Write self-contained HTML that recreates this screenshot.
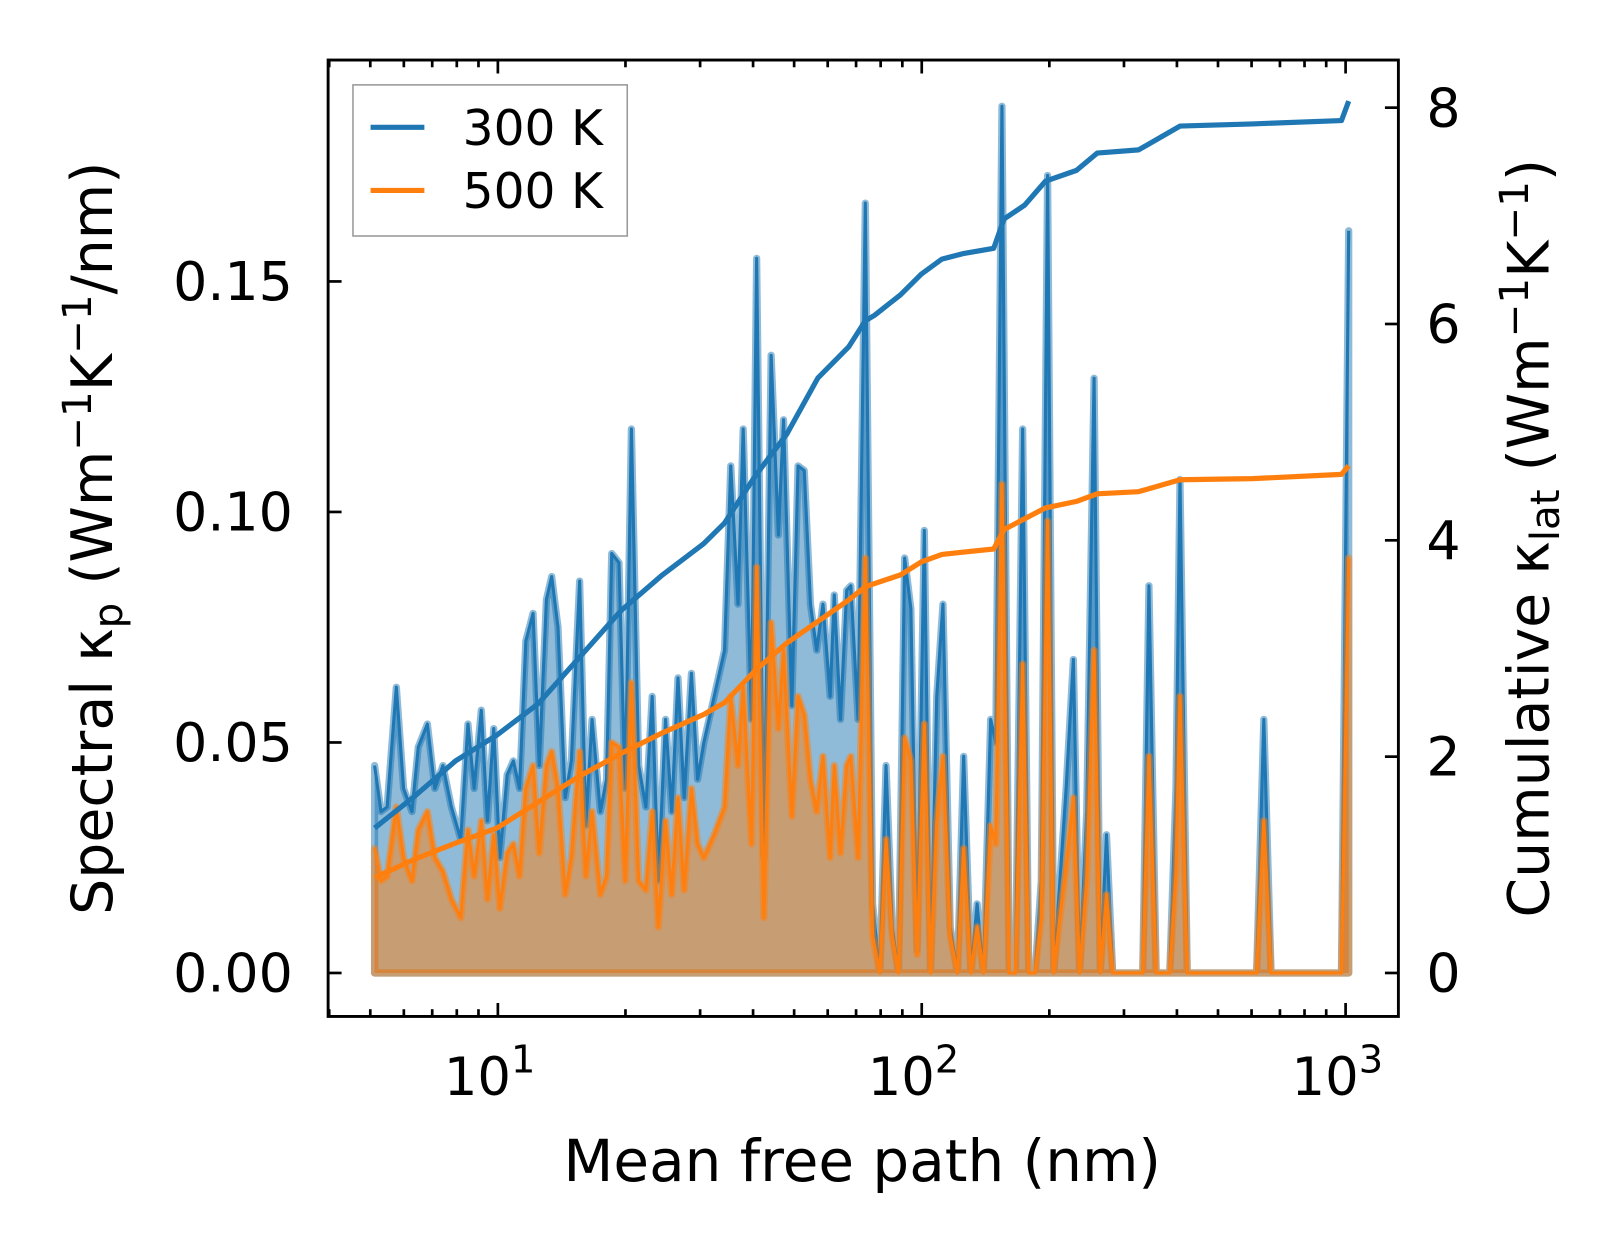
<!DOCTYPE html>
<html><head><meta charset="utf-8"><style>
html,body{margin:0;padding:0;background:#fff;}
svg{display:block;font-family:"DejaVu Sans","Liberation Sans",sans-serif;}
</style></head><body>
<svg id="chart" width="1623" height="1254" viewBox="0 0 1568 1211.5" xmlns="http://www.w3.org/2000/svg">
<g id="plot"></g>
</svg>
<script>
const mfp=[5.12,5.30,5.48,5.76,5.99,6.27,6.49,6.82,7.10,7.42,7.77,8.17,8.50,8.79,9.14,9.45,9.78,10.11,10.52,10.88,11.25,11.64,12.11,12.52,13.02,13.40,13.86,14.41,14.91,15.59,16.13,16.68,17.45,18.05,18.56,19.31,19.97,20.65,21.48,22.35,23.12,23.91,24.87,25.72,26.60,27.52,28.62,29.60,30.62,32.39,34.26,35.43,36.85,37.91,39.66,40.79,42.43,44.13,45.89,47.21,49.38,51.08,52.83,54.65,56.52,58.47,60.80,62.18,64.31,66.53,68.04,70.77,73.61,76.56,79.63,82.37,85.20,88.12,91.15,94.28,97.50,101.4,104.9,108.5,112.2,116.7,121.4,125.6,130.6,135.1,139.8,145.4,149.5,154.6,160.8,166.3,173.0,178.9,185.1,191.5,198.1,204.8,211.8,219.1,227.9,235.7,245.1,255.0,263.8,272.9,282.2,332.2,343.6,357.4,384.6,397.8,406.8,423.1,616.6,641.4,667.1,977.7,1017];
const spec300=[0.045,0.035,0.036,0.062,0.040,0.035,0.049,0.054,0.040,0.045,0.036,0.029,0.054,0.040,0.057,0.033,0.053,0.025,0.043,0.046,0.040,0.072,0.078,0.045,0.081,0.086,0.075,0.038,0.046,0.085,0.032,0.055,0.035,0.042,0.091,0.089,0.040,0.118,0.045,0.036,0.060,0.020,0.055,0.035,0.064,0.038,0.065,0.042,0.050,0.060,0.070,0.110,0.080,0.118,0.055,0.155,0.025,0.134,0.095,0.120,0.058,0.110,0.109,0.080,0.070,0.080,0.060,0.082,0.055,0.083,0.084,0.055,0.167,0.015,0.000,0.045,0.010,0.000,0.090,0.079,0.005,0.096,0.000,0.060,0.080,0.010,0.000,0.047,0.000,0.015,0.000,0.055,0.050,0.188,0.000,0.000,0.118,0.000,0.000,0.020,0.173,0.000,0.020,0.040,0.068,0.000,0.035,0.129,0.000,0.030,0.000,0.000,0.084,0.000,0.000,0.040,0.107,0.000,0.000,0.055,0.000,0.000,0.161];
const spec500=[0.027,0.020,0.021,0.036,0.025,0.020,0.031,0.035,0.025,0.022,0.016,0.012,0.031,0.021,0.033,0.016,0.030,0.014,0.026,0.028,0.021,0.040,0.045,0.026,0.045,0.048,0.040,0.017,0.025,0.048,0.021,0.035,0.017,0.021,0.050,0.049,0.020,0.063,0.020,0.018,0.035,0.010,0.033,0.017,0.038,0.018,0.040,0.028,0.025,0.030,0.036,0.060,0.045,0.062,0.028,0.088,0.012,0.076,0.053,0.070,0.034,0.060,0.056,0.042,0.035,0.047,0.025,0.045,0.026,0.045,0.047,0.025,0.090,0.008,0,0.029,0.008,0,0.051,0.046,0.004,0.054,0,0.033,0.047,0.008,0,0.027,0,0.010,0,0.032,0.028,0.106,0,0,0.067,0,0,0.012,0.098,0,0.012,0.023,0.038,0,0.020,0.070,0,0.017,0,0,0.047,0,0,0.022,0.060,0,0,0.033,0,0,0.090];
const cumMfp=[5.12,6.34,7.94,9.95,12.45,15.59,19.53,24.45,30.62,34.26,40.56,48.0,56.85,67.3,73.61,77.4,89.1,99.7,111.6,124.9,147.8,156.4,175.0,195.8,231.8,259.4,324.8,406.8,602.9,977.7,1017];
const cum300=[1.34,1.63,1.96,2.2,2.49,2.92,3.35,3.68,3.97,4.16,4.6,4.98,5.5,5.79,6.03,6.08,6.27,6.46,6.6,6.65,6.7,6.97,7.1,7.32,7.42,7.58,7.61,7.83,7.85,7.88,8.06];
const cum500=[0.88,1.05,1.2,1.34,1.58,1.82,2.03,2.22,2.39,2.5,2.8,3.05,3.25,3.45,3.57,3.6,3.68,3.8,3.87,3.89,3.92,4.1,4.2,4.3,4.36,4.43,4.45,4.56,4.57,4.61,4.69];
const leftTicks=[0,0.05,0.10,0.15];
const leftTickLabels=["0.00","0.05","0.10","0.15"];
const rightTicks=[0,2,4,6,8];
const xDecades=[1,2,3];

const NS="http://www.w3.org/2000/svg";
const g=document.getElementById('plot');
const L=317,R=1351,T=58,B=982;
const xs=v=>481+(Math.log10(v)-1)*409.5;
const yl=v=>940-v*(222.7/0.05);
const yr=v=>940-v*104.5;
function mk(tag,attrs,parent){const e=document.createElementNS(NS,tag);for(const k in attrs)e.setAttribute(k,attrs[k]);(parent||g).appendChild(e);return e;}
function pathD(xa,ya,fx,fy){return xa.map((x,i)=>(i?'L':'M')+fx(x).toFixed(1)+','+fy(ya[i]).toFixed(1)).join('');}
function areaD(xa,ya){return pathD(xa,ya,xs,yl)+'L'+xs(xa[xa.length-1]).toFixed(1)+','+yl(0)+'L'+xs(xa[0]).toFixed(1)+','+yl(0)+'Z';}

const clip=mk('clipPath',{id:'pc'});mk('rect',{x:L,y:T,width:R-L,height:B-T},clip);
const data=mk('g',{'clip-path':'url(#pc)'});


let e=mk('path',{d:areaD(mfp,spec300),fill:'#1f77b4','fill-opacity':0.5,stroke:'#1f77b4','stroke-opacity':0.5,'stroke-width':7,'stroke-linejoin':'round'},data);


e=mk('path',{d:pathD(mfp,spec300,xs,yl),fill:'none',stroke:'#1f77b4','stroke-width':3,'stroke-linejoin':'round'},data);


e=mk('path',{d:areaD(mfp,spec500),fill:'#ff7f0e','fill-opacity':0.5,stroke:'#ff7f0e','stroke-opacity':0.5,'stroke-width':7,'stroke-linejoin':'round'},data);


e=mk('path',{d:pathD(mfp,spec500,xs,yl),fill:'none',stroke:'#ff7f0e','stroke-width':3,'stroke-linejoin':'round'},data);


e=mk('path',{d:pathD(cumMfp,cum300,xs,yr),fill:'none',stroke:'#1f77b4','stroke-width':5,'stroke-linejoin':'round'},data);


e=mk('path',{d:pathD(cumMfp,cum500,xs,yr),fill:'none',stroke:'#ff7f0e','stroke-width':5,'stroke-linejoin':'round'},data);



e=mk('rect',{x:L,y:T,width:R-L,height:B-T,fill:'none',stroke:'#000','stroke-width':2.8});


const tk={stroke:'#000','stroke-width':2.6};
for(const d of [0,...xDecades]){
  for(let m=1;m<10;m++){
    const v=m*Math.pow(10,d);const x=xs(v);
    if(x<L||x>R)continue;
    const len=m===1?13:7;
    mk('line',Object.assign({x1:x,x2:x,y1:B,y2:B-len},tk));
    mk('line',Object.assign({x1:x,x2:x,y1:T,y2:T+len},tk));
  }
}
for(const d of xDecades){
  const t=mk('text',{x:xs(Math.pow(10,d))-8,y:1058,'font-size':51,'text-anchor':'middle'});
  
  
  t.textContent='10';
  const s=mk('tspan',{dy:-22,'font-size':37},t);s.textContent=String(d);
}
leftTicks.forEach((v,i)=>{
  const y=yl(v);
  mk('line',Object.assign({x1:L,x2:L+13,y1:y,y2:y},tk));
  const t=mk('text',{x:283,y:y+18,'font-size':52,'text-anchor':'end'});
  
  
  t.textContent=leftTickLabels[i];
});
rightTicks.forEach(v=>{
  const y=yr(v);
  mk('line',Object.assign({x1:R,x2:R-13,y1:y,y2:y},tk));
  const t=mk('text',{x:1378,y:y+18,'font-size':52,'text-anchor':'start'});
  
  
  t.textContent=String(v);
});
</script>
<svg style="position:absolute;left:0;top:0" width="1623" height="1254" viewBox="0 0 1568 1211.5" xmlns="http://www.w3.org/2000/svg" font-family="DejaVu Sans, Liberation Sans, sans-serif">
<g>
<rect x="341" y="82" width="265" height="146" fill="#fff" fill-opacity="0.8" stroke="#999" stroke-width="1.5"/>
<line x1="358" y1="123" x2="410" y2="123" stroke="#1f77b4" stroke-width="5"/>
<text x="447" y="140" font-size="47">300 K</text>
<line x1="358" y1="184" x2="410" y2="184" stroke="#ff7f0e" stroke-width="5"/>
<text x="447" y="201" font-size="47">500 K</text>
</g>
<text x="833" y="1141" font-size="56" text-anchor="middle">Mean free path (nm)</text>
<text transform="translate(108,520) rotate(-90)" font-size="55" text-anchor="middle">Spectral κ<tspan font-size="39" dy="10">p</tspan><tspan dy="-10"> (Wm</tspan><tspan font-size="39" dy="-20">−1</tspan><tspan dy="20">K</tspan><tspan font-size="39" dy="-20">−1</tspan><tspan dy="20">/nm)</tspan></text>
<text transform="translate(1496,520) rotate(-90)" font-size="55" text-anchor="middle">Cumulative κ<tspan font-size="39" dy="10">lat</tspan><tspan dy="-10"> (Wm</tspan><tspan font-size="39" dy="-20">−1</tspan><tspan dy="20">K</tspan><tspan font-size="39" dy="-20">−1</tspan><tspan dy="20">)</tspan></text>
</svg>
</body></html>
